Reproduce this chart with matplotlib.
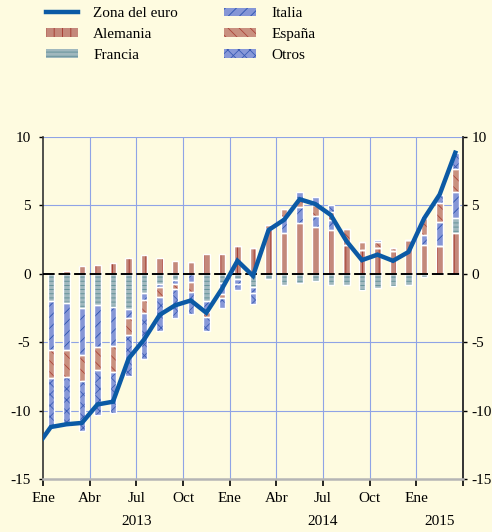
import numpy as np
import matplotlib
matplotlib.use("Agg")
import matplotlib.pyplot as plt
from matplotlib.patches import Patch
from matplotlib.lines import Line2D

# aportaciones por pais (puntos), ene 2013 - mar 2015
alemania = [0, 0.2, 0.55, 0.65, 0.8, 1.15, 1.4, 1.15, 0.95, 0.85, 1.45, 1.45, 2.05, 1.9,
            3.3, 3.0, 3.7, 3.4, 3.2, 2.1, 1.75, 1.9, 1.7, 2.5, 2.1, 2.05, 3.0]
francia = [-2.0, -2.1, -2.5, -2.25, -2.45, -2.6, -1.4, -0.75, -0.45, 0, -2.0, -0.7, -0.35, -1.0,
           -0.4, -0.8, -0.7, -0.55, -0.8, -0.85, -1.15, -1.05, -0.9, -0.8, -0.2, 0, 1.05]
italia = [-3.6, -3.45, -3.4, -3.1, -2.85, -0.6, -0.5, -0.2, -0.3, -0.6, -0.8, -0.8, -0.4, -0.4,
          0, 1.15, 1.15, 0.8, 0.75, 0, 0, 0, 0, 0, 0.75, 1.75, 1.9]
espana = [-2.0, -2.0, -1.95, -1.65, -1.9, -1.3, -1.0, -0.75, -0.35, -0.7, -0.35, -0.3, 0, 0,
          0.3, 0.55, 0.6, 0.8, 0.6, 1.2, 0.55, 0.4, 0.2, 0, 1.2, 1.4, 1.7]
otros = [-3.7, -3.6, -3.65, -3.3, -2.95, -2.95, -3.3, -2.5, -2.1, -1.65, -1.0, -0.7, -0.4, -0.8,
         0, 0, 0.55, 0.6, 0.5, 0, 0, 0.2, 0, 0, 0.15, 0.55, 1.2]

# zona del euro, dic 2012 - mar 2015 (el primer punto queda recortado)
zona = [-12.8, -11.2, -11.0, -10.9, -9.55, -9.35, -6.2, -4.8, -3.0, -2.3, -1.95, -2.85, -1.1,
        0.95, -0.15, 3.2, 3.95, 5.45, 5.1, 4.3, 2.4, 1.0, 1.4, 0.95, 1.6, 4.05, 5.8, 8.85]

month_labels = ["Ene", "Abr", "Jul", "Oct", "Ene", "Abr", "Jul", "Oct", "Ene", ""]
years = ["2013", "2014", "2015"]
year_pos = [5.5, 17.5, 25.0]
yticks = [-15, -10, -5, 0, 5, 10]

series = [
    ("Alemania", alemania, "#c4887b", "#a3352c", "||"),
    ("Francia", francia, "#a0b8be", "#5d8d95", "----"),
    ("Italia", italia, "#8596d6", "#2a52b0", "///"),
    ("España", espana, "#c9907f", "#ac4439", "\\\\\\"),
    ("Otros", otros, "#8798d8", "#3a5bb5", "xxx"),
]

bg = "#fefbe0"
plt.rcParams["font.family"] = ["Liberation Serif", "DejaVu Serif"]
plt.rcParams["hatch.linewidth"] = 0.6

fig = plt.figure(figsize=(4.92, 5.32), dpi=100, facecolor=bg)
ax = fig.add_axes([0.0874, 0.0996, 0.8537, 0.6429], facecolor=bg)

x = np.arange(len(alemania))
w = 0.42
pos_base = np.zeros(len(x))
neg_base = np.zeros(len(x))
for name, vals, fc, hc, hatch in series:
    v = np.array(vals, dtype=float)
    bottom = np.where(v >= 0, pos_base, neg_base)
    ax.bar(x, v, w, bottom=bottom, color=fc, edgecolor=hc, hatch=hatch, linewidth=0, zorder=2)
    ax.bar(x, v, w, bottom=bottom, fill=False, edgecolor="white", linewidth=1.0, zorder=3)
    pos_base += np.where(v >= 0, v, 0)
    neg_base += np.where(v < 0, v, 0)

ax.axhline(0, color="black", lw=1.4, ls=(0, (6, 2)), zorder=4)
xl = np.arange(-1, len(zona) - 1)
ax.plot(xl, zona, color="#0b5aa5", lw=3.2, zorder=5, solid_joinstyle="miter")

ax.set_xlim(-0.5, 26.5)
ax.set_ylim(-15, 10)

qt = np.arange(-0.5, 27, 3)
ax.set_xticks(qt)
ax.set_xticklabels(month_labels, fontsize=11)
ax.set_yticks(yticks)
ax.set_yticklabels([str(t) for t in yticks], fontsize=11)
for xv in qt[1:-1]:
    ax.axvline(xv, color="#8fa3e6", lw=0.8, zorder=1)
for yv in [-10, -5, 5, 10]:
    ax.axhline(yv, color="#8fa3e6", lw=0.8, zorder=1)

ax.tick_params(axis="x", direction="out", length=5, width=1.2, pad=4, colors="black")
ax.tick_params(axis="y", direction="out", length=3, width=1.0, pad=6)

# eje derecho con las mismas marcas
sec = ax.secondary_yaxis("right")
sec.set_yticks(yticks)
sec.set_yticklabels([str(t) for t in yticks], fontsize=11)
sec.tick_params(direction="out", length=3, width=1.0, pad=3)
sec.spines["right"].set_color("#333333")
sec.spines["right"].set_linewidth(1.2)

ax.spines["top"].set_visible(False)
ax.spines["left"].set_color("#333333")
ax.spines["right"].set_color("#333333")
ax.spines["left"].set_linewidth(1.2)
ax.spines["right"].set_linewidth(1.2)
ax.spines["bottom"].set_color("#b5b5b5")
ax.spines["bottom"].set_linewidth(1.8)

for yr, xp in zip(years, year_pos):
    ax.text(xp, -0.105, yr, transform=ax.get_xaxis_transform(), ha="center", va="top", fontsize=11)

handles = [Line2D([0], [0], color="#0b5aa5", lw=3.2)]
labels = ["Zona del euro"]
for name, vals, fc, hc, hatch in series:
    handles.append(Patch(facecolor=fc, edgecolor=hc, hatch=hatch, linewidth=0))
    labels.append(name)
fig.legend(handles, labels, ncol=2, loc="upper left", bbox_to_anchor=(0.065, 1.012),
           frameon=False, fontsize=11, handlelength=2.1, handleheight=0.5,
           handletextpad=1.0, columnspacing=3.0, labelspacing=0.5)

fig.savefig("out.png", dpi=100, facecolor=bg)
